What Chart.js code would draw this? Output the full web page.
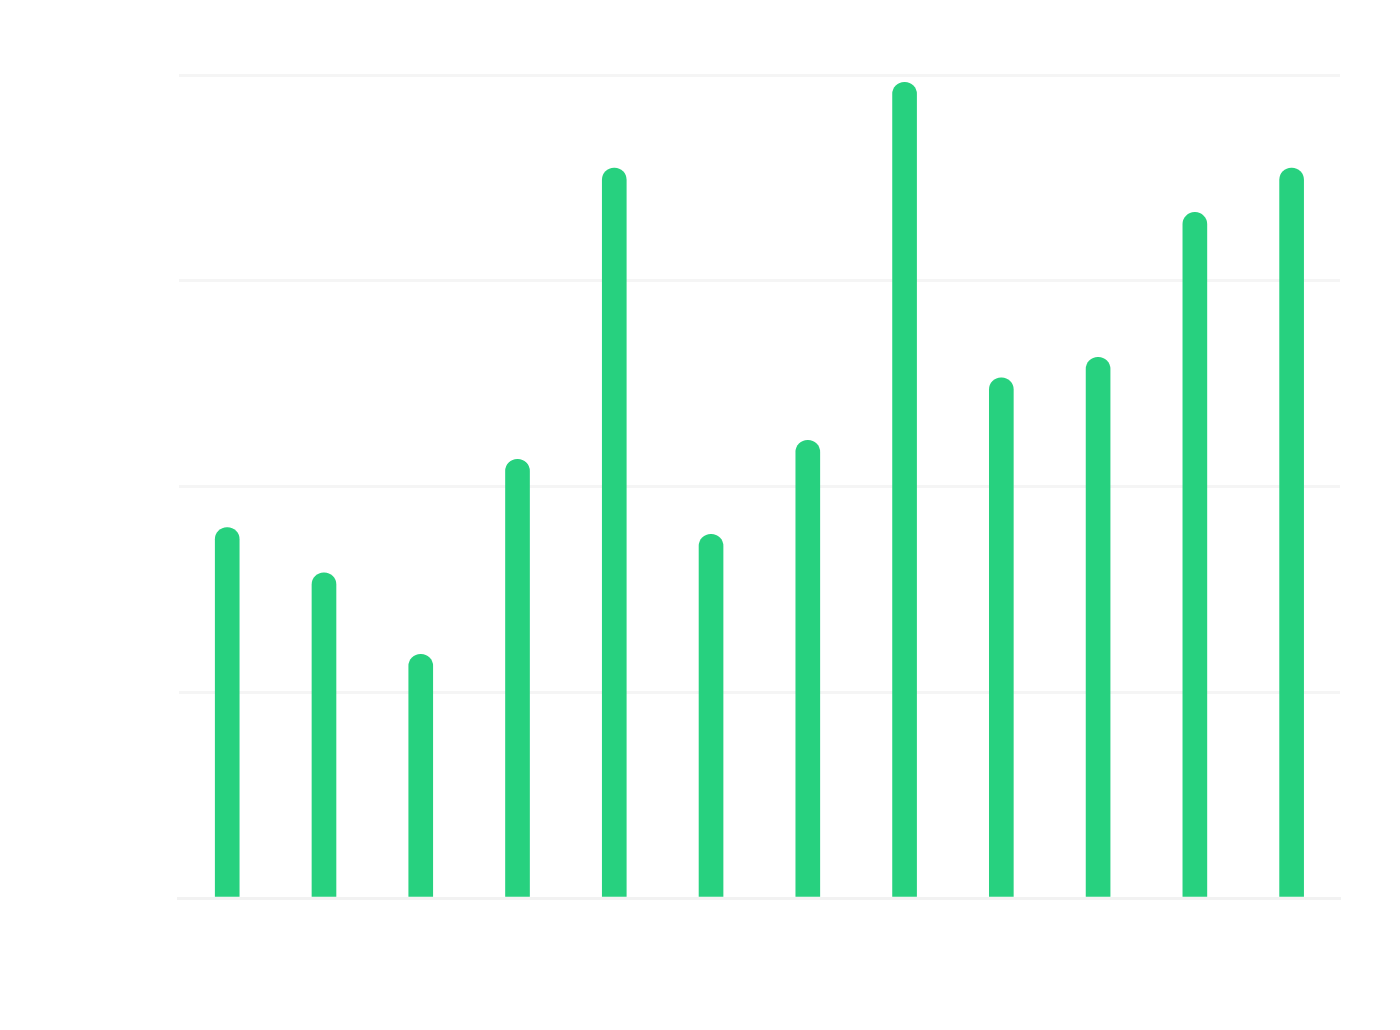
<!DOCTYPE html>
<html><head><meta charset="utf-8">
<script src="https://cdn.jsdelivr.net/npm/chart.js@4"></script>
<style>html,body{margin:0;background:#fff}#w{width:1400px;height:1030px}</style>
</head><body><div id="w"><canvas id="c"></canvas></div>
<script>
const categories = [["Apr","'23"],["May","'23"],["Jun","'23"],["Jul","'23"],["Aug","'23"],["Sep","'23"],["Oct","'23"],["Nov","'23"],["Dec","'23"],["Jan","'24"],["Feb","'24"],["Mar","'24"]];
const values = [45, 39.5, 29.6, 53.3, 88.7, 44.2, 55.6, 99.1, 63.2, 65.7, 83.3, 88.7];
const yTicks = [0, 25, 50, 75, 100];
const labelPlugin = {
  id: 'lbl',
  afterDatasetsDraw(chart) {
    const ctx = chart.ctx;
    const meta = chart.getDatasetMeta(0);
    ctx.save();
    ctx.fillStyle = '#ffffff';
    ctx.font = 'bold 15px "Open Sans"';
    ctx.textAlign = 'center';
    ctx.textBaseline = 'bottom';
    meta.data.forEach((b, i) => {
      ctx.fillText(Math.round(values[i]) + '%', b.x, b.y - 14);
    });
    ctx.restore();
  }
};
new Chart(document.getElementById('c'), {
  type: 'bar',
  data: { labels: categories, datasets: [{ data: values, backgroundColor: '#27d17f', barThickness: 24, borderRadius: {topLeft: 20, topRight: 20}, borderSkipped: 'bottom' }] },
  options: {
    responsive: true, maintainAspectRatio: false, animation: false,
    layout: { padding: { top: 75, bottom: 8, right: 60 } },
    plugins: { legend: { display: false }, tooltip: { enabled: false } },
    scales: {
      x: { grid: { display: false }, border: { color: '#f2f2f2', width: 3 },
           ticks: { color: '#ffffff', font: { size: 15, family: 'Open Sans' }, padding: 40 } },
      y: { min: 0, max: 100, afterBuildTicks: s => { s.ticks = yTicks.map(v => ({ value: v })); },
           grid: { color: '#f5f5f5', lineWidth: 3, drawTicks: false }, border: { display: false },
           ticks: { color: '#ffffff', font: { size: 20, family: 'Open Sans' }, padding: 20, callback: v => v + '%' },
           title: { display: true, text: 'Percentage Score', color: '#ffffff', font: { size: 20, family: 'Open Sans' }, padding: { bottom: 60 } } }
    }
  },
  plugins: [labelPlugin]
});
</script></body></html>
